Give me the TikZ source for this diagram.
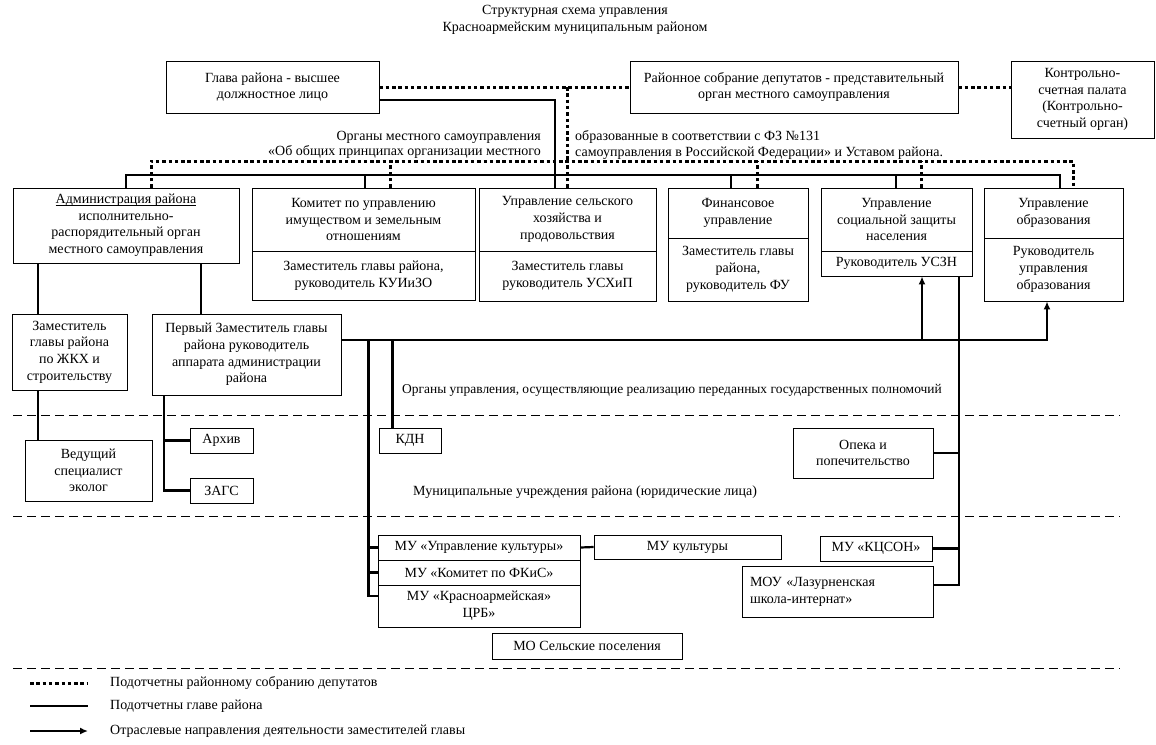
\documentclass[tikz,border=0pt]{standalone}
\usepackage{fontspec}
\setmainfont{Liberation Serif}
\usetikzlibrary{arrows.meta, positioning, calc}
\newcommand\ulword[1]{\underline{\vphantom{А}\smash{#1}}}

\begin{document}
\begin{tikzpicture}[x=1pt, y=-1pt,
  every node/.style={font=\fontsize{14}{16.7}\selectfont},
  box/.style={rectangle, draw, line width=0.8pt, inner sep=0pt, align=center},
  lbl/.style={inner sep=0pt},
  sub/.style={line width=2.2pt},
  rep/.style={line width=3pt, dash pattern=on 3.5pt off 2.8pt},
  arr/.style={line width=2.2pt, -{Latex[length=8pt, width=7pt]}},
  sep/.style={line width=0.9pt, dash pattern=on 9pt off 5pt},
]
\useasboundingbox (0,0) rectangle (1156,744);

% Title
\node[lbl, align=center] (title) at (575,20) {Структурная схема управления\\Красноармейским муниципальным районом};

% Top level
\node[box, minimum width=213pt, minimum height=52pt] (glava) at (272.5,87) {Глава района - высшее\\должностное лицо};
\node[box, minimum width=328pt, minimum height=52pt] (sobr) at (794,87) {Районное собрание депутатов - представительный\\орган местного самоуправления};
\node[box, minimum width=143pt, minimum height=77pt] (ksp) at (1082.5,99.5) {Контрольно-\\счетная палата\\(Контрольно-\\счетный орган)};

\node[lbl, anchor=east] (orgA) at (541,137) {Органы местного самоуправления};
\node[lbl, anchor=east] (orgB) at (541,152) {«Об общих принципах организации местного};
\node[lbl, anchor=west] (orgC) at (575,137) {образованные в соответствии с ФЗ №131};
\node[lbl, anchor=west] (orgD) at (575,153) {самоуправления в Российской Федерации» и Уставом района.};

% Bodies of local self-government
\node[box, minimum width=226pt, minimum height=75pt] (admin) at (126,225.5) {\ulword{Администрация района}\\исполнительно-\\распорядительный орган\\местного самоуправления};
\node[box, minimum width=223pt, minimum height=63pt] (komA) at (363.5,219.5) {Комитет по управлению\\имуществом и земельным\\отношениям};
\node[box, minimum width=223pt, minimum height=49pt] (komB) at (363.5,275.5) {Заместитель главы района,\\руководитель КУИиЗО};
\node[box, minimum width=177pt, minimum height=63pt] (uskhA) at (567.5,219.5) {Управление сельского\\хозяйства и\\продовольствия};
\node[box, minimum width=177pt, minimum height=50pt] (uskhB) at (567.5,276) {Заместитель главы\\руководитель УСХиП};
\node[box, minimum width=140pt, minimum height=50pt] (finA) at (738,213) {Финансовое\\управление};
\node[box, minimum width=140pt, minimum height=63pt] (finB) at (738,269.5) {Заместитель главы\\района,\\руководитель ФУ};
\node[box, minimum width=151pt, minimum height=63pt] (usznA) at (896.5,219.5) {Управление\\социальной защиты\\населения};
\node[box, minimum width=151pt, minimum height=25pt] (usznB) at (896.5,263.5) {Руководитель УСЗН};
\node[box, minimum width=139pt, minimum height=50pt] (obrA) at (1053.5,213) {Управление\\образования};
\node[box, minimum width=139pt, minimum height=63pt] (obrB) at (1053.5,269.5) {Руководитель\\управления\\образования};

% Deputies
\node[box, minimum width=115pt, minimum height=76pt] (zhkh) at (69.5,352) {Заместитель\\главы района\\по ЖКХ и\\строительству};
\node[box, minimum width=189pt, minimum height=81pt] (perv) at (246.5,354.5) {Первый Заместитель главы\\района руководитель\\аппарата администрации\\района};
\node[lbl, anchor=west, font=\fontsize{13.45}{16}\selectfont] (gos) at (402,390) {Органы управления, осуществляющие реализацию переданных государственных полномочий};

% State powers
\node[box, minimum width=127pt, minimum height=61pt] (ved) at (88.5,470.5) {Ведущий\\специалист\\эколог};
\node[box, minimum width=63pt, minimum height=25pt] (arch) at (221.5,440.5) {Архив};
\node[box, minimum width=63pt, minimum height=25pt] (zags) at (221.5,490.5) {ЗАГС};
\node[box, minimum width=62pt, minimum height=25pt] (kdn) at (410,440.5) {КДН};
\node[box, minimum width=140pt, minimum height=50pt] (opeka) at (863,453) {Опека и\\попечительство};
\node[lbl, anchor=west] (mun) at (413,492) {Муниципальные учреждения района (юридические лица)};

% Municipal institutions
\node[box, minimum width=202pt, minimum height=25pt] (muA) at (479,547.5) {МУ «Управление культуры»};
\node[box, minimum width=202pt, minimum height=25pt] (muB) at (479,572.5) {МУ «Комитет по ФКиС»};
\node[box, minimum width=202pt, minimum height=42pt] (muC) at (479,606) {МУ «Красноармейская»\\ЦРБ»};
\node[box, minimum width=187pt, minimum height=24pt] (mukult) at (687.5,547) {МУ культуры};
\node[box, minimum width=112pt, minimum height=25pt] (kcson) at (876,548.5) {МУ «КЦСОН»};
\node[box, minimum width=191pt, minimum height=51pt, text width=175pt, align=left, inner xsep=8pt] (mou) at (837.5,591.5) {МОУ «Лазурненская\\школа-интернат»};
\node[box, minimum width=190pt, minimum height=26pt] (mo) at (587,646) {МО Сельские поселения};

% Separators
\draw[sep] (13,415) -- (1120,415);
\draw[sep] (13,516) -- (1120,516);
\draw[sep] (13,668) -- (1120,668);

% Buses
\coordinate (busS) at (0,175);
\coordinate (busD) at (0,161);
\foreach \n/\s/\d in {admin/0/25, komA/1.5/26.5, uskhA/-12.5/-0.5, finA/-7/19, usznA/-0.5/24.5, obrA/6.5/19.5} {
  \coordinate (s\n) at ([xshift=\s pt]\n.north);
  \coordinate (d\n) at ([xshift=\d pt]\n.north);
}
\draw[sub] (sadmin) -- (sadmin |- busS) -- (sobrA |- busS) -- (sobrA);
\foreach \n in {komA, uskhA, finA, usznA}
  \draw[sub] (s\n) -- (s\n |- busS);
\draw[rep] (dadmin) -- (dadmin |- busD) -- (dobrA |- busD) -- (dobrA);
\foreach \n in {komA, uskhA, finA, usznA}
  \draw[rep] (d\n) -- (d\n |- busD);

% Head and council
\draw[rep] (glava.east) -- (sobr.west);
\draw[rep] (sobr.east) -- (sobr.east -| ksp.west);
\draw[sub] ([yshift=-13pt]glava.east) -| (suskhA |- busS);
\draw[rep] (duskhA |- glava.east) -- (duskhA |- busD);

% Administration
\coordinate (aZ) at ([xshift=-88pt]admin.south);
\coordinate (aP) at ([xshift=75pt]admin.south);
\draw[sub] (aZ) -- (aZ |- zhkh.north);
\draw[sub] (aP) -- (aP |- perv.north);
\coordinate (zV) at ([xshift=-31.5pt]zhkh.south);
\draw[sub] (zV) -- (zV |- ved.north);
\coordinate (pA) at ([xshift=-82.5pt]perv.south);
\draw[sub] (pA) |- (zags.west);
\draw[sub] (arch.west -| pA) -- (arch.west);

% First deputy lines
\coordinate (pr) at ([yshift=14.5pt]perv.east);
\coordinate (oa) at ([xshift=-6.5pt]obrB.south);
\coordinate (ua) at ([xshift=25.5pt]usznB.south);
\draw[arr] (pr) -| (oa);
\draw[arr] (pr -| ua) -- (ua);
\coordinate (pv) at ([xshift=27pt]pr);
\coordinate (pk) at ([xshift=51pt]pr);
\draw[sub] (pk) -- (pk |- kdn.north);
\draw[sub] (pv) |- ([yshift=10pt]muC.west);
\draw[sub] (muA.west -| pv) -- (muA.west);
\draw[sub] (muB.west -| pv) -- (muB.west);
\draw[sub] (muA.east) -- (mukult.west);

% Social protection
\coordinate (uz) at ([xshift=62.5pt]usznB.south);
\draw[sub] (uz) |- ([yshift=6.5pt]mou.east);
\draw[sub] (opeka.east) -- (opeka.east -| uz);
\draw[sub] (kcson.east) -- (kcson.east -| uz);

% Legend
\node[lbl, anchor=west] (lgA) at (110,683) {Подотчетны районному собранию депутатов};
\node[lbl, anchor=west] (lgB) at (110,706) {Подотчетны главе района};
\node[lbl, anchor=west] (lgC) at (110,731) {Отраслевые направления деятельности заместителей главы};
\coordinate (kA) at (30,683);
\coordinate (kB) at (30,706);
\coordinate (kC) at (30,731);
\draw[rep] (kA) -- (kA -| 88,0);
\draw[sub] (kB) -- (kB -| 88,0);
\draw[arr] (kC) -- (kC -| 88,0);

\end{tikzpicture}
\end{document}
